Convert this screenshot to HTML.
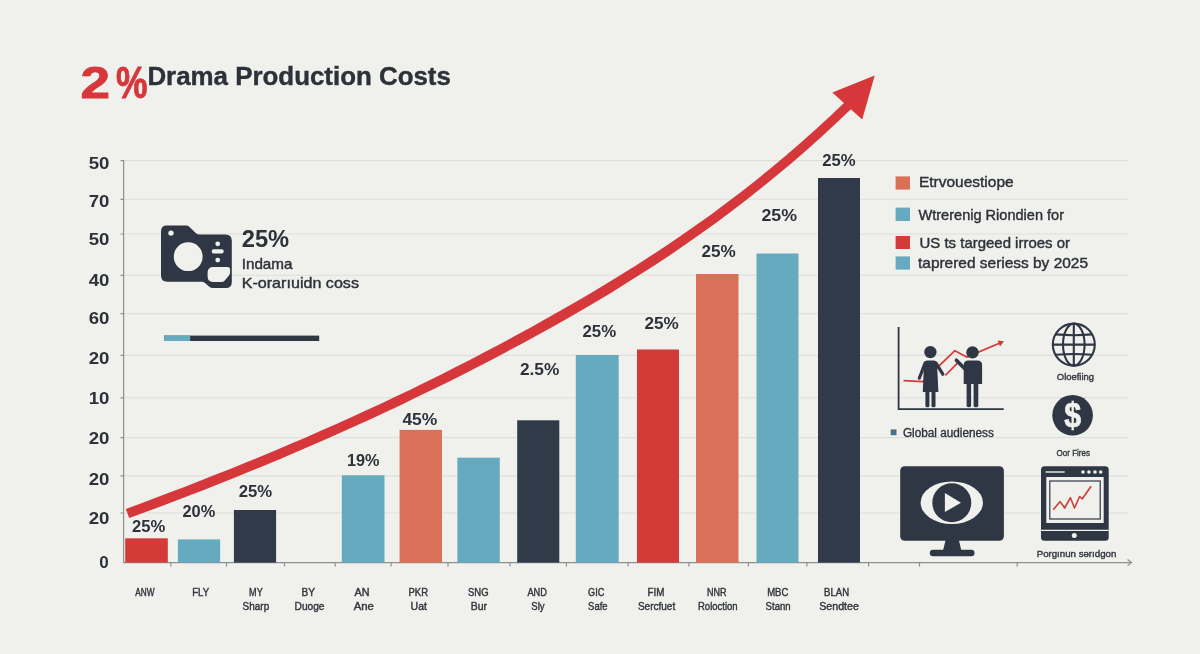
<!DOCTYPE html>
<html lang="en">
<head>
<meta charset="utf-8">
<title>Drama Production Costs</title>
<style>
  html, body { margin: 0; padding: 0; background: #f0f1ed; }
  body { width: 1200px; height: 654px; overflow: hidden; font-family: "Liberation Sans", sans-serif; }
  svg { display: block; }
  text { font-family: "Liberation Sans", sans-serif; fill: #2d3139; }
  .b { font-weight: 700; }
  .ylab { font-weight: 700; font-size: 17px; }
  .blab { font-weight: 700; font-size: 16.5px; }
  .xlab { font-size: 11px; fill: #33373f; stroke: #33373f; stroke-width: 0.42px; }
  .xl1 { font-size: 10.3px; }
  .leg { font-size: 14.5px; stroke: #2d3139; stroke-width: 0.4px; }
  .sm { font-size: 9.5px; fill: #33373f; stroke: #33373f; stroke-width: 0.4px; }
</style>
</head>
<body>
<svg width="1200" height="654" viewBox="0 0 1200 654">
  <rect x="0" y="0" width="1200" height="654" fill="#f0f1ed"/>

  <!-- gridlines -->
  <g id="grid" stroke="#dededc" stroke-width="1.1" fill="none">
    <line x1="124" y1="160.6" x2="1128" y2="160.6"/>
    <line x1="124" y1="199.3" x2="1128" y2="199.3"/>
    <line x1="124" y1="234" x2="1128" y2="234"/>
    <line x1="124" y1="275.3" x2="1128" y2="275.3"/>
    <line x1="124" y1="313.6" x2="1128" y2="313.6"/>
    <line x1="124" y1="355.4" x2="1128" y2="355.4"/>
    <line x1="124" y1="397.8" x2="1128" y2="397.8"/>
    <line x1="124" y1="437.6" x2="1128" y2="437.6"/>
    <line x1="124" y1="475.9" x2="1128" y2="475.9"/>
    <line x1="124" y1="513" x2="1128" y2="513"/>
  </g>

  <!-- axes -->
  <g id="axes" stroke="#8e9094" stroke-width="1.2" fill="none">
    <line x1="123.6" y1="160" x2="123.6" y2="563"/>
    <line x1="123" y1="562.6" x2="1131" y2="562.6"/>
    <path d="M1127.6 559.6 L1131.6 562.6 L1127.6 565.6"/>
    <!-- y ticks -->
    <path d="M120.5 160.6H124 M120.5 199.3H124 M120.5 234H124 M120.5 275.3H124 M120.5 313.6H124 M120.5 355.4H124 M120.5 397.8H124 M120.5 437.6H124 M120.5 475.9H124 M120.5 513H124"/>
    <!-- x ticks -->
    <path d="M170.8 562.6v4 M226.5 562.6v4 M284.5 562.6v4 M335.2 562.6v4 M391.1 562.6v4 M448 562.6v4 M510 562.6v4 M566.4 562.6v4 M628.1 562.6v4 M688.9 562.6v4 M748.4 562.6v4 M806.9 562.6v4 M868.6 562.6v4 M919.5 562.6v4 M1017.2 562.6v4"/>
  </g>

  <!-- y labels -->
  <g id="ylabels" class="ylab" text-anchor="end">
    <text x="109.4" y="168.7" textLength="20.7" lengthAdjust="spacingAndGlyphs" class="ylab">50</text>
    <text x="109.4" y="206.5" textLength="20.7" lengthAdjust="spacingAndGlyphs" class="ylab">70</text>
    <text x="109.4" y="245" textLength="20.7" lengthAdjust="spacingAndGlyphs" class="ylab">50</text>
    <text x="109.4" y="285.6" textLength="20.7" lengthAdjust="spacingAndGlyphs" class="ylab">40</text>
    <text x="109.4" y="324" textLength="20.7" lengthAdjust="spacingAndGlyphs" class="ylab">60</text>
    <text x="109.4" y="363.9" textLength="20.7" lengthAdjust="spacingAndGlyphs" class="ylab">20</text>
    <text x="109.4" y="404.2" textLength="20.7" lengthAdjust="spacingAndGlyphs" class="ylab">10</text>
    <text x="109.4" y="444.2" textLength="20.7" lengthAdjust="spacingAndGlyphs" class="ylab">20</text>
    <text x="109.4" y="484.6" textLength="20.7" lengthAdjust="spacingAndGlyphs" class="ylab">20</text>
    <text x="109.4" y="524" textLength="20.7" lengthAdjust="spacingAndGlyphs" class="ylab">20</text>
    <text x="108.8" y="568.3" class="ylab">0</text>
  </g>

  <!-- bars -->
  <g id="bars">
    <rect x="125.2" y="538.3" width="42.6" height="24.3" fill="#d23b38"/>
    <rect x="177.9" y="539.4" width="42.2" height="23.2" fill="#66aabf"/>
    <rect x="233.9" y="510" width="42.2" height="52.6" fill="#303a49"/>
    <rect x="341.8" y="475.3" width="42.7" height="87.3" fill="#66aabf"/>
    <rect x="399.6" y="429.9" width="42.4" height="132.7" fill="#db7058"/>
    <rect x="457.4" y="457.7" width="42.4" height="104.9" fill="#66aabf"/>
    <rect x="517.2" y="420.3" width="42.1" height="142.3" fill="#303a49"/>
    <rect x="575.8" y="355" width="42.9" height="207.6" fill="#66aabf"/>
    <rect x="637" y="349.5" width="42" height="213.1" fill="#d23b38"/>
    <rect x="696" y="274" width="42.5" height="288.6" fill="#db7058"/>
    <rect x="756.5" y="253.5" width="42" height="309.1" fill="#66aabf"/>
    <rect x="818" y="178" width="42" height="384.6" fill="#303a49"/>
  </g>

  <!-- red growth arrow -->
  <g id="arrow">
    <path d="M125.8 508.9 L140.8 503.4 L155.8 497.8 L170.8 492.1 L185.8 486.4 L200.8 480.5 L215.8 474.6 L230.8 468.7 L245.8 462.6 L260.8 456.4 L275.8 450.2 L290.8 443.8 L305.8 437.4 L320.8 430.8 L335.8 424.2 L350.8 417.5 L365.8 410.6 L380.8 403.7 L395.8 396.6 L410.8 389.4 L425.8 382.1 L440.8 374.7 L455.7 367.1 L470.7 359.4 L485.7 351.6 L500.7 343.7 L515.7 335.6 L530.6 327.4 L545.6 319.1 L560.6 310.6 L575.6 302.0 L590.6 293.2 L605.5 284.3 L620.5 275.1 L635.5 265.7 L650.5 256.1 L665.5 246.2 L680.5 236.1 L695.5 225.6 L710.5 214.9 L725.4 203.8 L740.4 192.4 L755.4 180.7 L770.4 168.5 L785.4 156.0 L800.4 143.1 L815.3 129.8 L830.3 116.0 L845.3 101.8 L851.7 108.5 L836.6 122.8 L821.6 136.7 L806.5 150.2 L791.5 163.2 L776.4 175.8 L761.3 188.1 L746.3 200.0 L731.2 211.5 L716.2 222.7 L701.1 233.6 L686.1 244.1 L671.0 254.4 L655.9 264.4 L640.9 274.1 L625.8 283.6 L610.8 292.9 L595.7 302.0 L580.7 310.8 L565.6 319.4 L550.5 327.9 L535.5 336.2 L520.4 344.4 L505.4 352.5 L490.3 360.4 L475.2 368.2 L460.2 375.9 L445.1 383.4 L430.1 390.8 L415.0 398.1 L400.0 405.4 L384.9 412.5 L369.9 419.4 L354.8 426.3 L339.8 433.1 L324.7 439.8 L309.7 446.3 L294.6 452.8 L279.6 459.2 L264.6 465.4 L249.5 471.6 L234.5 477.7 L219.4 483.7 L204.4 489.7 L189.3 495.5 L174.3 501.3 L159.3 507.0 L144.2 512.6 L129.2 518.1 Z" fill="#d6373a"/>
    <polygon points="874.7,75.6 832.3,92.4 862.2,119.6" fill="#d6373a"/>
  </g>

  <!-- bar value labels -->
  <g id="barlabels" class="blab">
    <text x="132" y="531.6" textLength="33.3" lengthAdjust="spacingAndGlyphs" class="blab">25%</text>
    <text x="182.5" y="516.7" textLength="32.8" lengthAdjust="spacingAndGlyphs" class="blab">20%</text>
    <text x="238.7" y="497.2" textLength="33.5" lengthAdjust="spacingAndGlyphs" class="blab">25%</text>
    <text x="347" y="465.7" textLength="32.5" lengthAdjust="spacingAndGlyphs" class="blab">19%</text>
    <text x="402.4" y="424.7" textLength="34.9" lengthAdjust="spacingAndGlyphs" class="blab">45%</text>
    <text x="519.9" y="375.1" textLength="39.4" lengthAdjust="spacingAndGlyphs" class="blab">2.5%</text>
    <text x="582.5" y="337.1" textLength="33.7" lengthAdjust="spacingAndGlyphs" class="blab">25%</text>
    <text x="644.4" y="328.5" textLength="34.3" lengthAdjust="spacingAndGlyphs" class="blab">25%</text>
    <text x="701.4" y="256.5" textLength="34.3" lengthAdjust="spacingAndGlyphs" class="blab">25%</text>
    <text x="761.4" y="220.5" textLength="35.6" lengthAdjust="spacingAndGlyphs" class="blab">25%</text>
    <text x="822.2" y="166" textLength="33.4" lengthAdjust="spacingAndGlyphs" class="blab">25%</text>
  </g>

  <g id="xlabels" class="xlab">
    <text x="135.3" y="596.3" textLength="19.2" lengthAdjust="spacingAndGlyphs" class="xlab xl1">ANW</text>
    <text x="192.2" y="596.3" textLength="16.9" lengthAdjust="spacingAndGlyphs" class="xlab xl1">FLY</text>
    <text x="249.1" y="596.3" textLength="13.6" lengthAdjust="spacingAndGlyphs" class="xlab xl1">MY</text>
    <text x="242.6" y="610" textLength="26.6" lengthAdjust="spacingAndGlyphs" class="xlab">Sharp</text>
    <text x="301.5" y="596.3" textLength="13.5" lengthAdjust="spacingAndGlyphs" class="xlab xl1">BY</text>
    <text x="294.6" y="610" textLength="29.9" lengthAdjust="spacingAndGlyphs" class="xlab">Duoge</text>
    <text x="354.5" y="596.3" textLength="15.0" lengthAdjust="spacingAndGlyphs" class="xlab xl1">AN</text>
    <text x="353.7" y="610" textLength="20.2" lengthAdjust="spacingAndGlyphs" class="xlab">Ane</text>
    <text x="408.5" y="596.3" textLength="19.5" lengthAdjust="spacingAndGlyphs" class="xlab xl1">PKR</text>
    <text x="410.6" y="610" textLength="16.3" lengthAdjust="spacingAndGlyphs" class="xlab">Uat</text>
    <text x="468.0" y="596.3" textLength="20.5" lengthAdjust="spacingAndGlyphs" class="xlab xl1">SNG</text>
    <text x="470.7" y="610" textLength="16.3" lengthAdjust="spacingAndGlyphs" class="xlab">Bur</text>
    <text x="527.4" y="596.3" textLength="19.5" lengthAdjust="spacingAndGlyphs" class="xlab xl1">AND</text>
    <text x="531.3" y="610" textLength="13.3" lengthAdjust="spacingAndGlyphs" class="xlab">Sly</text>
    <text x="588.1" y="596.3" textLength="16.3" lengthAdjust="spacingAndGlyphs" class="xlab xl1">GIC</text>
    <text x="588.1" y="610" textLength="19.5" lengthAdjust="spacingAndGlyphs" class="xlab">Safe</text>
    <text x="647.6" y="596.3" textLength="16.9" lengthAdjust="spacingAndGlyphs" class="xlab xl1">FIM</text>
    <text x="637.9" y="610" textLength="37.3" lengthAdjust="spacingAndGlyphs" class="xlab">Sercfuet</text>
    <text x="707.1" y="596.3" textLength="19.5" lengthAdjust="spacingAndGlyphs" class="xlab xl1">NNR</text>
    <text x="698.0" y="610" textLength="39.6" lengthAdjust="spacingAndGlyphs" class="xlab">Roloction</text>
    <text x="767.2" y="596.3" textLength="21.1" lengthAdjust="spacingAndGlyphs" class="xlab xl1">MBC</text>
    <text x="765.6" y="610" textLength="25.0" lengthAdjust="spacingAndGlyphs" class="xlab">Stann</text>
    <text x="824.1" y="596.3" textLength="25.0" lengthAdjust="spacingAndGlyphs" class="xlab xl1">BLAN</text>
    <text x="819.2" y="610" textLength="39.7" lengthAdjust="spacingAndGlyphs" class="xlab">Sendtee</text>
  </g>

  <!-- title -->
  <g id="title">
    <text y="97.9" font-size="44" font-weight="700" style="fill:#d6373a;stroke:#d6373a;stroke-width:0.9"><tspan x="80.4" textLength="29.5" lengthAdjust="spacingAndGlyphs">2</tspan><tspan x="108" textLength="8" lengthAdjust="spacingAndGlyphs"> </tspan><tspan x="116" textLength="31.5" lengthAdjust="spacingAndGlyphs">%</tspan></text>
    <text x="147.4" y="84.6" font-size="26" font-weight="700" style="stroke:#2d3139;stroke-width:0.4" textLength="303.5" lengthAdjust="spacingAndGlyphs">Drama Production Costs</text>
  </g>

  <!-- camera callout -->
  <g id="camera">
    <path fill="#2f3644" d="M166.8 225.6 H186 Q188 225.6 189.5 227 L196 233.3 Q197.4 234.6 199.5 234.6 H225.3 Q231.8 234.6 231.8 241 V282 Q231.8 288.1 225.8 288.1 H212.8 Q210.8 288.1 209.3 286.8 L205 282.9 Q203.6 281.7 201.5 281.7 H167.2 Q161 281.7 161 275.5 V231.4 Q161 225.6 166.8 225.6 Z"/>
    <circle cx="188.2" cy="256.7" r="14.4" fill="#f0f1ed"/>
    <circle cx="171" cy="233.1" r="2.7" fill="#f0f1ed"/>
    <circle cx="217.7" cy="243.8" r="2.4" fill="#f0f1ed"/>
    <rect x="211.7" y="249.2" width="12" height="4.3" rx="2" fill="#f0f1ed"/>
    <circle cx="217.7" cy="260.1" r="2.4" fill="#f0f1ed"/>
    <path fill="#f0f1ed" d="M213.5 267 H227.5 Q230.1 267 230.1 269.6 V272.5 Q230.1 274.5 228.6 275.9 L224.5 280.8 Q223.4 282 221.5 282 H213 Q207.6 282 207.6 276.6 V272.6 Q207.6 267 213.5 267 Z"/>
    <text x="241.7" y="246.8" font-size="23" font-weight="700" textLength="47.5" lengthAdjust="spacingAndGlyphs">25%</text>
    <text x="241.7" y="268.9" font-size="14.4" style="stroke:#2d3139;stroke-width:0.4px" textLength="50.8" lengthAdjust="spacingAndGlyphs">Indama</text>
    <text x="241.7" y="287.7" font-size="14.4" style="stroke:#2d3139;stroke-width:0.4px" textLength="117.3" lengthAdjust="spacingAndGlyphs">K-orarıuidn coss</text>
    <rect x="164.2" y="335.6" width="155" height="5.4" fill="#2f3644"/>
    <rect x="164.2" y="335.6" width="26" height="5.4" fill="#66aabf"/>
  </g>
  <!-- legend -->
  <g id="legend">
    <rect x="895.6" y="176.4" width="14.4" height="13.2" fill="#db7058"/>
    <rect x="895.6" y="207.6" width="14.4" height="13.4" fill="#66aabf"/>
    <rect x="895.6" y="236" width="14.4" height="13" fill="#d23b38"/>
    <rect x="895.6" y="256.4" width="14.4" height="13.2" fill="#66aabf"/>
    <text x="919" y="187.4" textLength="94.6" lengthAdjust="spacingAndGlyphs" class="leg">Etrvouestiope</text>
    <text x="918.5" y="220" textLength="145.5" lengthAdjust="spacingAndGlyphs" class="leg">Wtrerenig Riondien for</text>
    <text x="919.5" y="248" textLength="150.5" lengthAdjust="spacingAndGlyphs" class="leg">US ts targeed irroes or</text>
    <text x="918" y="268" textLength="170" lengthAdjust="spacingAndGlyphs" class="leg">taprered seriess by 2025</text>
  </g>
  <!-- people / growth mini chart -->
  <g id="people">
    <path d="M898.6 327.1 V409.1 H1003.7" fill="none" stroke="#2f3644" stroke-width="1.8"/>
    <path d="M903.5 380.6 L922.8 381.7 L954.9 350.7 L966.7 357.1 L1000 343" fill="none" stroke="#d23b38" stroke-width="1.7" stroke-linejoin="round"/>
    <path d="M945.3 375.3 L957.5 363.1" fill="none" stroke="#d23b38" stroke-width="1.7"/>
    <polygon points="1004,341.2 997.6,340.4 1000,346.4" fill="#d23b38"/>
    <g fill="#2f3644" stroke="none">
      <circle cx="930.4" cy="352.1" r="6.2"/>
      <path d="M927 360.4 H934 Q936.6 360.4 937 363 L938.4 391.9 H922.8 L924 363 Q924.4 360.4 927 360.4 Z"/>
      <rect x="925.4" y="390" width="4" height="17.3" rx="1.6"/>
      <rect x="931.5" y="390" width="4" height="17.3" rx="1.6"/>
      <circle cx="972.5" cy="352.4" r="6.2"/>
      <path d="M968.3 360.5 H977.5 Q982.1 360.5 982.1 365.1 V383.9 H963.7 V365.1 Q963.7 360.5 968.3 360.5 Z"/>
      <rect x="966.6" y="382" width="4.5" height="25.3" rx="1.8"/>
      <rect x="973.6" y="382" width="4.7" height="25.3" rx="1.8"/>
    </g>
    <g fill="none" stroke="#2f3644" stroke-linecap="round">
      <path d="M925 363.2 L919.3 378.2" stroke-width="3.2"/>
      <path d="M936 363.2 L942.8 374.2" stroke-width="3.2"/>
      <path d="M965.5 369.4 L956.4 360.2" stroke-width="3.6"/>
    </g>
    <rect x="890.7" y="429.4" width="5.8" height="5.8" fill="#4d6f85"/>
    <text x="902.9" y="437" font-size="12" style="stroke:#2d3139;stroke-width:0.35px" textLength="91" lengthAdjust="spacingAndGlyphs">Global audieness</text>
  </g>

  <!-- globe -->
  <g id="globe" fill="none" stroke="#2f3644" stroke-width="2.1">
    <circle cx="1073.8" cy="344.6" r="21"/>
    <ellipse cx="1073.8" cy="344.6" rx="10.8" ry="21"/>
    <path d="M1073.8 323.6 V365.6 M1052.8 344.6 H1094.8"/>
    <path d="M1055.4 334.4 Q1073.8 336 1092.2 334.4 M1055.4 354.8 Q1073.8 353.2 1092.2 354.8"/>
  </g>
  <text x="1056.8" y="379.5" class="sm" textLength="37.2" lengthAdjust="spacingAndGlyphs">Oloefiing</text>

  <!-- dollar -->
  <g id="dollar">
    <circle cx="1072.6" cy="415.3" r="20.3" fill="#2f3644"/>
    <text x="1064.2" y="427" font-size="34.5" font-weight="700" textLength="16.8" lengthAdjust="spacingAndGlyphs" style="fill:#f0f1ed;stroke:#f0f1ed;stroke-width:0.7px">$</text>
  </g>
  <text x="1056.6" y="455.7" class="sm" textLength="33.3" lengthAdjust="spacingAndGlyphs">Oor Fires</text>

  <!-- monitor -->
  <g id="monitor">
    <rect x="900.2" y="466.2" width="103.7" height="74.6" rx="4.5" fill="#2f3644"/>
    <path d="M945.6 540 H958.8 L961.4 550.5 H943 Z" fill="#2f3644"/>
    <rect x="929.8" y="549.8" width="44.7" height="6.4" rx="3.2" fill="#2f3644"/>
    <ellipse cx="951.8" cy="502.7" rx="31.2" ry="21.3" fill="#f0f1ed"/>
    <circle cx="951.8" cy="502.7" r="19.5" fill="#2f3644"/>
    <path d="M944.9 493.1 V512.1 L961 502.7 Z" fill="#f0f1ed"/>
  </g>

  <!-- tablet -->
  <g id="tablet">
    <rect x="1041" y="466.2" width="67.7" height="74.6" rx="3.5" fill="#2f3644"/>
    <rect x="1046.3" y="477" width="57.4" height="46" fill="#f0f1ed"/>
    <rect x="1049.8" y="481" width="50.4" height="38" fill="none" stroke="#2f3644" stroke-width="1.2"/>
    <path d="M1045.6 472 H1064.7" stroke="#f0f1ed" stroke-width="1.4" fill="none"/>
    <circle cx="1083" cy="472" r="1.8" fill="#f0f1ed"/>
    <circle cx="1088.9" cy="472" r="1.8" fill="#f0f1ed"/>
    <circle cx="1095" cy="472" r="1.8" fill="#f0f1ed"/>
    <circle cx="1100.7" cy="472" r="1.8" fill="#f0f1ed"/>
    <path d="M1041 530.3 H1108.7" stroke="#f0f1ed" stroke-width="1.2" fill="none"/>
    <circle cx="1074.3" cy="535.6" r="2.5" fill="#f0f1ed"/>
    <path d="M1053.2 509.8 L1060.1 501.6 L1064.7 508 L1070.4 497.7 L1074.5 508 L1079.6 496.5 L1082.3 498.8 L1091.1 486.2" fill="none" stroke="#d23b38" stroke-width="1.6" stroke-linejoin="round"/>
  </g>
  <text x="1036.7" y="556.9" class="sm" textLength="79.6" lengthAdjust="spacingAndGlyphs">Porgınun sərıdgon</text>
</svg>
</body>
</html>
